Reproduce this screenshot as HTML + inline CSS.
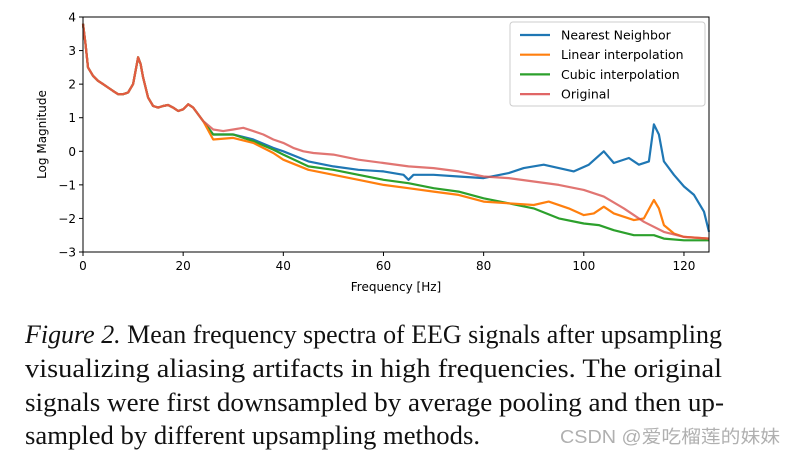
<!DOCTYPE html>
<html><head><meta charset="utf-8"><style>
html,body{margin:0;padding:0;background:#fff;}
svg{display:block;}
</style></head><body>
<svg id="chart" width="795" height="454" xmlns="http://www.w3.org/2000/svg">
<rect width="795" height="454" fill="#fff"/>
<g id="plot"></g>
<g font-family="'Liberation Serif', serif" font-size="26" fill="#111">
<text x="25" y="343" textLength="697" lengthAdjust="spacingAndGlyphs"><tspan font-style="italic">Figure 2.</tspan> Mean frequency spectra of EEG signals after upsampling</text>
<text x="25" y="377" textLength="697" lengthAdjust="spacingAndGlyphs">visualizing aliasing artifacts in high frequencies.  The original</text>
<text x="25" y="411" textLength="699" lengthAdjust="spacingAndGlyphs">signals were first downsampled by average pooling and then up-</text>
<text x="25" y="444" textLength="455" lengthAdjust="spacingAndGlyphs">sampled by different upsampling methods.</text>
</g>
<text x="560" y="443" textLength="220" lengthAdjust="spacingAndGlyphs" font-family="'Liberation Sans','Noto Sans CJK SC',sans-serif" font-size="18" fill="#b0b0b0">CSDN @爱吃榴莲的妹妹</text>
</svg>
<script>
const commonX=[0,0.5,1,2,3,4,5,6,7,8,9,10,10.5,11,11.5,12,13,14,15,16,17,18,19,20,21,22,23,24];
const commonY=[3.8,3.2,2.5,2.25,2.1,2.0,1.9,1.8,1.7,1.7,1.75,2.0,2.4,2.8,2.6,2.2,1.6,1.35,1.3,1.35,1.38,1.3,1.2,1.25,1.4,1.3,1.1,0.9];
const origX=[26,28,30,32,34,36,38,40,42,44,46,50,55,60,65,70,75,80,85,90,95,100,104,108,112,116,120,125];
const origY=[0.65,0.6,0.65,0.7,0.6,0.5,0.35,0.25,0.1,0,-0.05,-0.1,-0.25,-0.35,-0.45,-0.5,-0.6,-0.75,-0.8,-0.9,-1.0,-1.15,-1.35,-1.7,-2.1,-2.4,-2.55,-2.6];
const nnX=[26,30,34,38,40,45,50,55,60,64,65,66,70,75,80,85,88,92,95,98,101,104,106,109,111,113,114,115,116,118,120,122,124,125];
const nnY=[0.5,0.5,0.35,0.1,0,-0.3,-0.45,-0.55,-0.6,-0.7,-0.85,-0.7,-0.7,-0.75,-0.8,-0.65,-0.5,-0.4,-0.5,-0.6,-0.4,0,-0.35,-0.2,-0.4,-0.3,0.8,0.5,-0.3,-0.7,-1.05,-1.3,-1.8,-2.4];
const linX=[26,30,34,38,40,45,50,55,60,65,70,75,80,85,90,93,97,100,102,104,106,110,112,114,115,116,118,120,125];
const linY=[0.35,0.4,0.25,-0.05,-0.25,-0.55,-0.7,-0.85,-1.0,-1.1,-1.2,-1.3,-1.5,-1.55,-1.6,-1.5,-1.7,-1.9,-1.85,-1.65,-1.85,-2.05,-2.0,-1.45,-1.7,-2.2,-2.45,-2.55,-2.6];
const cubX=[26,30,34,38,40,45,50,55,60,65,70,75,80,85,90,95,100,103,106,110,114,116,120,125];
const cubY=[0.5,0.5,0.3,0.05,-0.1,-0.45,-0.55,-0.7,-0.85,-0.95,-1.1,-1.2,-1.4,-1.55,-1.7,-2.0,-2.15,-2.2,-2.35,-2.5,-2.5,-2.6,-2.65,-2.65];
const xTicks=[0,20,40,60,80,100,120];
const yTicks=[-3,-2,-1,0,1,2,3,4];
const seriesNames=["Nearest Neighbor","Linear interpolation","Cubic interpolation","Original"];
const seriesColors=["#1f77b4","#ff7f0e","#2ca02c","#e06666"];

const L=83,R=709,T=17,B=252;
const sx=v=>L+(v-0)/125*(R-L);
const sy=v=>B-(v+3)/7*(B-T);
const NS="http://www.w3.org/2000/svg";
const g=document.getElementById('plot');
function mk(tag,attrs){const e=document.createElementNS(NS,tag);for(const k in attrs)e.setAttribute(k,attrs[k]);g.appendChild(e);return e;}
function path(xs,ys,color,name,op){
  const X=commonX.concat(xs),Y=commonY.concat(ys);
  let d='';X.forEach((x,i)=>{d+=(i?'L':'M')+sx(x).toFixed(1)+','+sy(Y[i]).toFixed(1);});
  const p=mk('path',{d:d,fill:'none',stroke:color,'stroke-width':2.2,'stroke-linejoin':'round','stroke-opacity':op});
  
  
}
path(nnX,nnY,seriesColors[0],'line-nearest-neighbor',1);
path(cubX,cubY,seriesColors[2],'line-cubic-interpolation',1);
path(linX,linY,seriesColors[1],'line-linear-interpolation',1);
path(origX,origY,"#d9534f",'line-original',0.8);
const fr=mk('rect',{x:L,y:T,width:R-L,height:B-T,fill:'none',stroke:'#000','stroke-width':1});


xTicks.forEach(v=>{
  const t=mk('line',{x1:sx(v),x2:sx(v),y1:B,y2:B+4,stroke:'#000'});
  
  
  const tx=mk('text',{x:sx(v),y:B+18,'text-anchor':'middle','font-family':"'DejaVu Sans',sans-serif",'font-size':12});
  tx.textContent=v;
  
  
});
yTicks.forEach(v=>{
  const t=mk('line',{x1:L-4,x2:L,y1:sy(v),y2:sy(v),stroke:'#000'});
  
  
  const tx=mk('text',{x:L-7,y:sy(v)+4.5,'text-anchor':'end','font-family':"'DejaVu Sans',sans-serif",'font-size':12});
  tx.textContent=v<0?'\u2212'+(-v):v;
  
  
});
const xl=mk('text',{x:(L+R)/2,y:291,'text-anchor':'middle','font-family':"'DejaVu Sans',sans-serif",'font-size':12});
xl.textContent='Frequency [Hz]';


const yl=mk('text',{x:0,y:0,'text-anchor':'middle','font-family':"'DejaVu Sans',sans-serif",'font-size':12,transform:'translate(46,'+((T+B)/2)+') rotate(-90)'});
yl.textContent='Log Magnitude';


const lb=mk('rect',{x:510,y:22,width:195,height:84,rx:3,fill:'#fff','fill-opacity':0.9,stroke:'#ccc'});


seriesNames.forEach((n,i)=>{
  const y=35+i*19.7;
  const ln=mk('line',{x1:520,x2:550,y1:y,y2:y,stroke:seriesColors[i],'stroke-width':2.2});
  
  
  const t=mk('text',{x:561,y:y+4.5,'font-family':"'DejaVu Sans',sans-serif",'font-size':12.5});
  t.textContent=n;
  
  
});
</script>
</body></html>
